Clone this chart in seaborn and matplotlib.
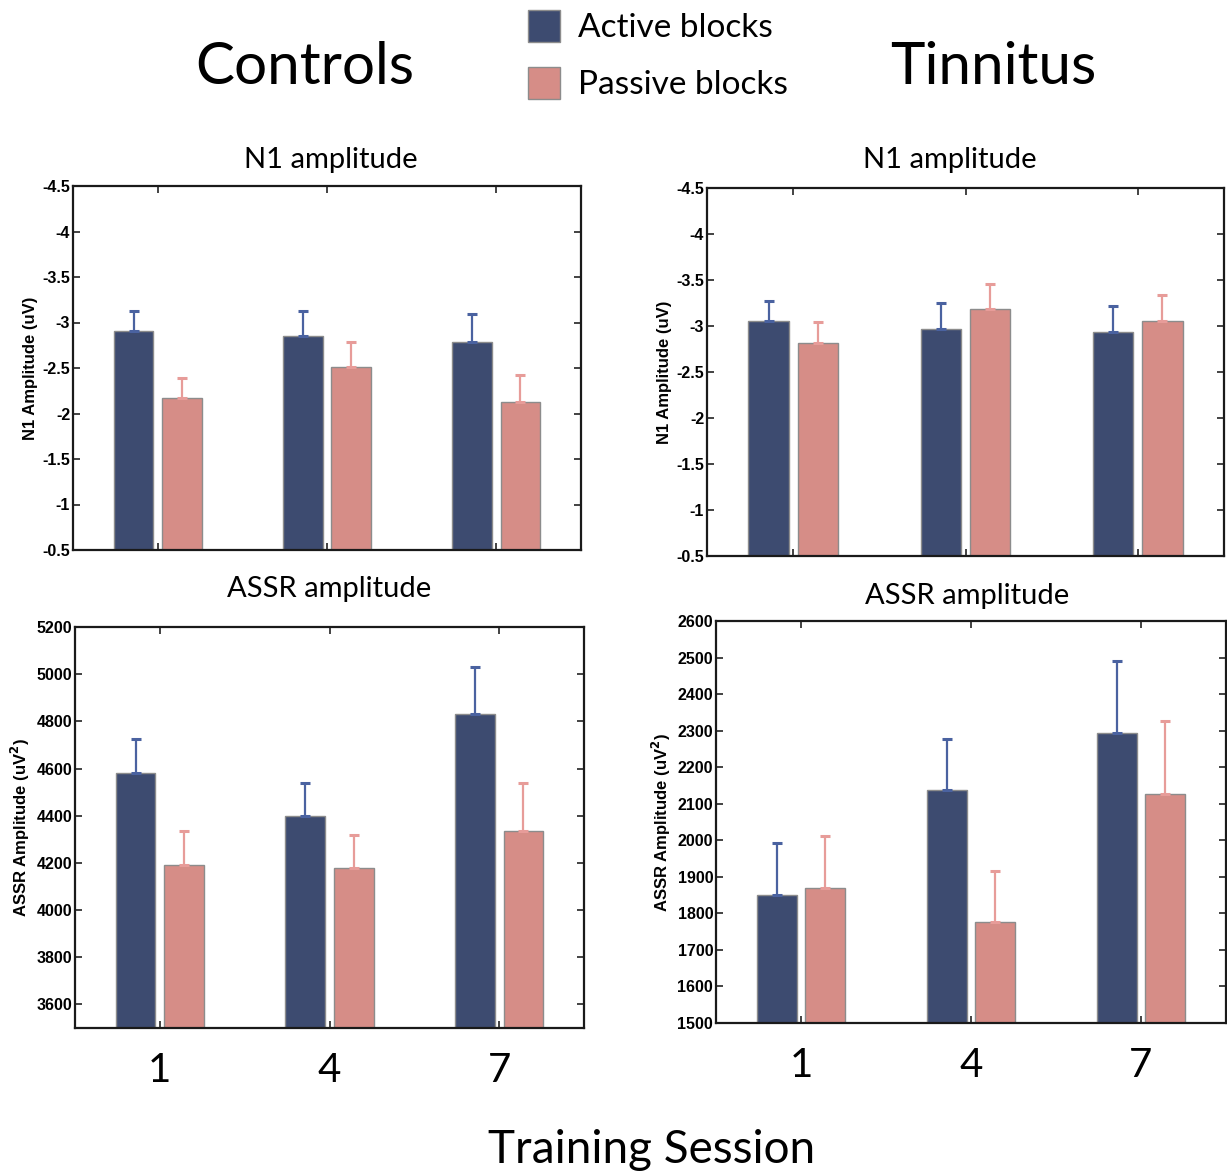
import pandas as pd
import seaborn as sns
import numpy as np
import matplotlib.pyplot as plt

sessions = ["1", "4", "7"]
blocks = ["Active blocks", "Passive blocks"]

# N1 amplitude (uV), bar heights and tops of error bars
controls_n1_active = [-2.91, -2.85, -2.79]
controls_n1_active_top = [-3.13, -3.13, -3.09]
controls_n1_passive = [-2.17, -2.51, -2.13]
controls_n1_passive_top = [-2.39, -2.79, -2.42]

tinnitus_n1_active = [-3.05, -2.97, -2.93]
tinnitus_n1_active_top = [-3.27, -3.25, -3.22]
tinnitus_n1_passive = [-2.82, -3.18, -3.05]
tinnitus_n1_passive_top = [-3.04, -3.46, -3.34]

# ASSR amplitude (uV^2)
controls_assr_active = [4580, 4400, 4830]
controls_assr_active_top = [4725, 4540, 5030]
controls_assr_passive = [4190, 4180, 4335]
controls_assr_passive_top = [4335, 4320, 4540]

tinnitus_assr_active = [1850, 2138, 2293]
tinnitus_assr_active_top = [1993, 2278, 2490]
tinnitus_assr_passive = [1870, 1775, 2126]
tinnitus_assr_passive_top = [2012, 1916, 2325]

bar_colors = ["#3d4b70", "#d68d87"]
err_colors = ["#4a62a0", "#e79c99"]

sns.set_style("white")
plt.rcParams["axes.unicode_minus"] = False
plt.rcParams["text.color"] = "black"
plt.rcParams["xtick.color"] = "black"
plt.rcParams["ytick.color"] = "black"
plt.rcParams["axes.labelcolor"] = "black"
title_font = "Lato"
tick_font = "Liberation Sans"


def make_frame(active, passive):
    rows = []
    for s, a, p in zip(sessions, active, passive):
        rows.append({"session": s, "block": blocks[0], "value": a})
        rows.append({"session": s, "block": blocks[1], "value": p})
    return pd.DataFrame(rows)


def draw_panel(ax, active, active_top, passive, passive_top, ylim, yticks,
               ylabel, show_x):
    data = make_frame(active, passive)
    sns.barplot(data=data, x="session", y="value", hue="block",
                order=sessions, hue_order=blocks, palette=bar_colors,
                width=0.57, gap=0.18, errorbar=None, edgecolor="#8c8c8c",
                linewidth=1, saturation=1, ax=ax)
    bars = list(ax.containers[:2])
    for cont, means, tops, col in zip(bars, [active, passive],
                                      [active_top, passive_top], err_colors):
        xs = [b.get_x() + b.get_width() / 2 for b in cont]
        e = np.array(tops) - np.array(means)
        yerr = [np.clip(-e, 0, None), np.clip(e, 0, None)]
        ax.errorbar(xs, means, yerr=yerr, fmt="none", ecolor=col,
                    elinewidth=1.6, capsize=3.5, capthick=2.2, zorder=3)
    ax.set_xlim(-0.5, 2.5)
    ax.set_ylim(*ylim)
    ax.set_yticks(yticks)
    ax.set_yticklabels(["%g" % t for t in yticks], fontfamily=tick_font,
                       fontweight="bold", fontsize=11.5)
    ax.set_ylabel(ylabel, fontfamily=tick_font, fontweight="bold",
                  fontsize=12, labelpad=3)
    ax.set_xlabel("")
    ax.set_xticks(range(len(sessions)))
    if show_x:
        ax.set_xticklabels(sessions, fontfamily=title_font, fontsize=29)
    else:
        ax.set_xticklabels([])
    ax.tick_params(direction="in", length=5, width=1.2, top=True,
                   right=True, left=True, bottom=True, color="#222222")
    ax.tick_params(axis="x", pad=17)
    ax.tick_params(axis="y", pad=2)
    for sp in ax.spines.values():
        sp.set_visible(True)
        sp.set_color("#1a1a1a")
        sp.set_linewidth(1.6)
    leg = ax.get_legend()
    if leg is not None:
        leg.remove()
    return bars


W, H = 1227, 1174
fig = plt.figure(figsize=(W / 100, H / 100), dpi=100)


def box(l, r, t, b):
    return [l / W, (H - b) / H, (r - l) / W, (b - t) / H]


ax1 = fig.add_axes(box(73, 581, 186, 550))
ax2 = fig.add_axes(box(707, 1224, 188, 556))
ax3 = fig.add_axes(box(75, 584, 627, 1028))
ax4 = fig.add_axes(box(716, 1226, 621, 1023))

n1_ticks = np.arange(-4.5, -0.4, 0.5)
bars1 = draw_panel(ax1, controls_n1_active, controls_n1_active_top,
                   controls_n1_passive, controls_n1_passive_top,
                   (-0.5, -4.5), n1_ticks, "N1 Amplitude (uV)", False)
draw_panel(ax2, tinnitus_n1_active, tinnitus_n1_active_top,
           tinnitus_n1_passive, tinnitus_n1_passive_top,
           (-0.5, -4.5), n1_ticks, "N1 Amplitude (uV)", False)
draw_panel(ax3, controls_assr_active, controls_assr_active_top,
           controls_assr_passive, controls_assr_passive_top,
           (3500, 5200), np.arange(3600, 5201, 200),
           r"ASSR Amplitude (uV$^{\mathbf{2}}$)", True)
draw_panel(ax4, tinnitus_assr_active, tinnitus_assr_active_top,
           tinnitus_assr_passive, tinnitus_assr_passive_top,
           (1500, 2600), np.arange(1500, 2601, 100),
           r"ASSR Amplitude (uV$^{\mathbf{2}}$)", True)


def ftext(x, y, s, size, **kw):
    fig.text(x / W, 1 - y / H, s, fontsize=size, fontfamily=title_font,
             ha="center", va="center", **kw)


ftext(305, 67, "Controls", 42)
ftext(993, 67, "Tinnitus", 42)
ftext(331, 160, "N1 amplitude", 21)
ftext(950, 160, "N1 amplitude", 21)
ftext(329, 589, "ASSR amplitude", 21)
ftext(967, 596, "ASSR amplitude", 21)
ftext(652, 1150, "Training Session", 33)

fig.legend([c.patches[0] for c in bars1], blocks,
           loc="upper left", bbox_to_anchor=(498 / W, 1 + 20 / H),
           frameon=False, prop={"family": title_font, "size": 24},
           handlelength=0.95, handleheight=1.1, handletextpad=0.55,
           labelspacing=0.7)

fig.savefig("out.png", dpi=100)
